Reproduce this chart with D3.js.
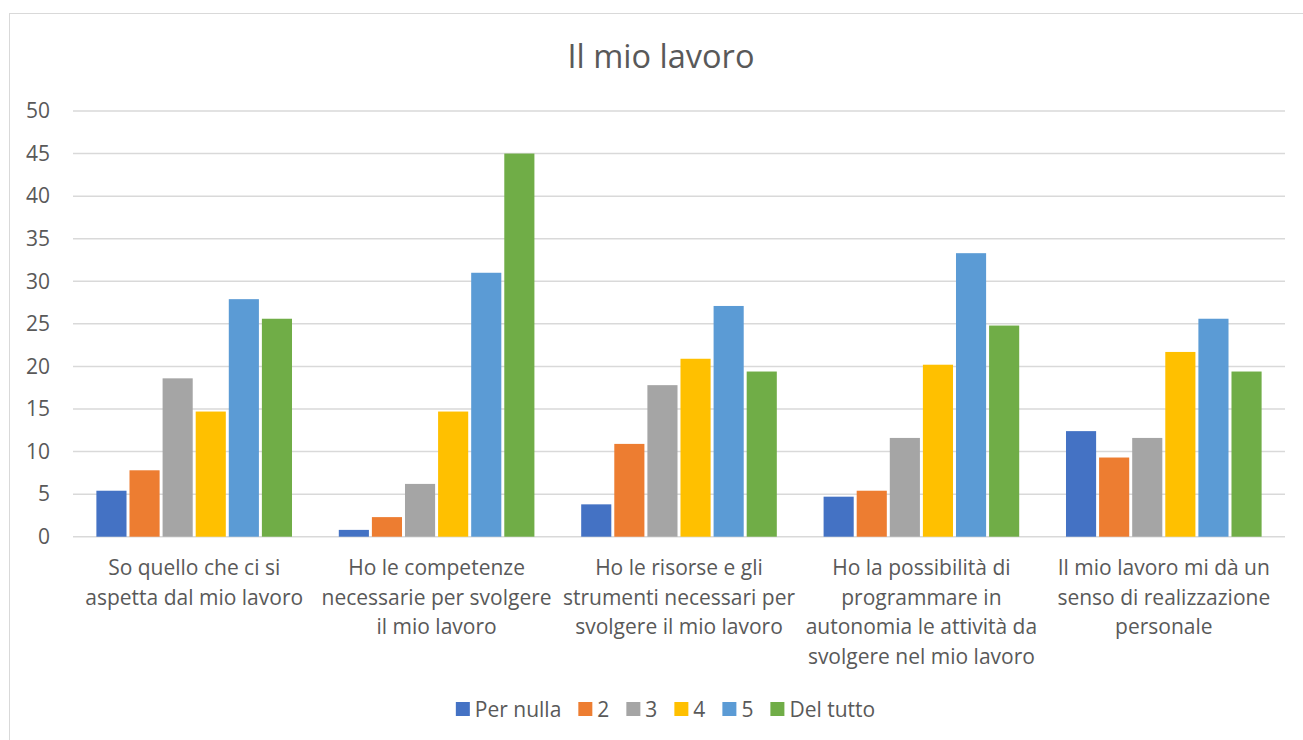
<!DOCTYPE html>
<html>
<head>
<meta charset="utf-8">
<script src="https://cdn.jsdelivr.net/npm/d3@7"></script>
<style>
  body { margin: 0; background: #fff; }
  svg text { font-family: "Open Sans", "Noto Sans", sans-serif; fill: #595959; }
</style>
</head>
<body>
<svg id="chart" width="1303" height="740"></svg>
<script>
// chart data
var title = "Il mio lavoro";
var categories = [
  ["So quello che ci si", "aspetta dal mio lavoro"],
  ["Ho le competenze", "necessarie per svolgere", "il mio lavoro"],
  ["Ho le risorse e gli", "strumenti necessari per", "svolgere il mio lavoro"],
  ["Ho la possibilità di", "programmare in", "autonomia le attività da", "svolgere nel mio lavoro"],
  ["Il mio lavoro mi dà un", "senso di realizzazione", "personale"]
];
var seriesNames = ["Per nulla", "2", "3", "4", "5", "Del tutto"];
var perNulla = [5.4, 0.8, 3.8, 4.7, 12.4];
var due = [7.8, 2.3, 10.9, 5.4, 9.3];
var tre = [18.6, 6.2, 17.8, 11.6, 11.6];
var quattro = [14.7, 14.7, 20.9, 20.2, 21.7];
var cinque = [27.9, 31.0, 27.1, 33.3, 25.6];
var delTutto = [25.6, 45.0, 19.4, 24.8, 19.4];
var yTicks = [0, 5, 10, 15, 20, 25, 30, 35, 40, 45, 50];

var colors = ["#4472C4", "#ED7D31", "#A5A5A5", "#FFC000", "#5B9BD5", "#70AD47"];
var seriesValues = [perNulla, due, tre, quattro, cinque, delTutto];

var svg = d3.select("#chart");
var margin = { top: 111, left: 73, right: 18, bottom: 203 };
var width = 1303, height = 740;

// outer chart border
svg.append("rect")
  .attr("x", 9.5).attr("y", 13.5)
  .attr("width", 1310).attr("height", 740)
  .attr("fill", "none")
  .attr("stroke", "#d9d9d9")
  .attr("stroke-width", 1);

// title
svg.append("text")
  .attr("x", 661).attr("y", 68)
  .attr("text-anchor", "middle")
  .style("font-size", "32.5px")
  .text(title);

// scales
var x0 = d3.scaleBand()
  .domain(d3.range(categories.length))
  .range([margin.left, width - margin.right])
  .paddingInner(0.193)
  .paddingOuter(0.0965);

var x1 = d3.scaleBand()
  .domain(d3.range(seriesNames.length))
  .range([0, x0.bandwidth()])
  .paddingInner(0.09);

var y = d3.scaleLinear()
  .domain([0, 50])
  .range([height - margin.bottom - 0.3, margin.top]);

// gridlines
svg.append("g")
  .selectAll("line")
  .data(yTicks)
  .enter().append("line")
  .attr("x1", margin.left).attr("x2", width - margin.right)
  .attr("y1", function(d) { return y(d); })
  .attr("y2", function(d) { return y(d); })
  .attr("stroke", "#d9d9d9")
  .attr("stroke-width", 1.5);

// y axis labels
var yaxis = svg.append("g")
  .attr("transform", "translate(" + (margin.left - 21) + ",0)")
  .call(d3.axisLeft(y).tickValues(yTicks).tickSize(0).tickPadding(2));
yaxis.select(".domain").remove();
yaxis.selectAll("text")
  .style("font-size", "21px")
  .style("font-family", "'Open Sans', sans-serif")
  .attr("fill", "#595959");

// bars
var groups = svg.append("g")
  .selectAll("g")
  .data(categories)
  .enter().append("g")
  .attr("transform", function(d, i) { return "translate(" + x0(i) + ",0)"; });

groups.selectAll("rect")
  .data(function(d, i) {
    return seriesValues.map(function(s, j) { return { s: j, v: s[i] }; });
  })
  .enter().append("rect")
  .attr("x", function(d) { return x1(d.s); })
  .attr("width", x1.bandwidth())
  .attr("y", function(d) { return y(d.v); })
  .attr("height", function(d) { return y(0) - y(d.v); })
  .attr("fill", function(d) { return colors[d.s]; });

// category labels
var catLabels = svg.append("g")
  .selectAll("text")
  .data(categories)
  .enter().append("text")
  .attr("text-anchor", "middle")
  .attr("x", function(d, i) { return x0(i) + x0.bandwidth() / 2; })
  .attr("y", 575)
  .style("font-size", "21px");

catLabels.selectAll("tspan")
  .data(function(d) { return d; })
  .enter().append("tspan")
  .attr("x", function() { return d3.select(this.parentNode).attr("x"); })
  .attr("dy", function(d, i) { return i === 0 ? 0 : 29.5; })
  .text(function(d) { return d; });

// legend
var legend = svg.append("g");
var items = legend.selectAll("g")
  .data(seriesNames)
  .enter().append("g");
items.append("rect")
  .attr("width", 14).attr("height", 14)
  .attr("y", 702)
  .attr("fill", function(d, i) { return colors[i]; });
items.append("text")
  .attr("x", 19)
  .attr("y", 716.5)
  .style("font-size", "21px")
  .text(function(d) { return d; });

var pos = 0;
items.each(function() {
  var w = 19 + d3.select(this).select("text").node().getComputedTextLength();
  d3.select(this).attr("transform", "translate(" + pos + ",0)");
  pos += w + 17;
});
var total = pos - 17;
legend.attr("transform", "translate(" + (665.5 - total / 2) + ",0)");
</script>
</body>
</html>
